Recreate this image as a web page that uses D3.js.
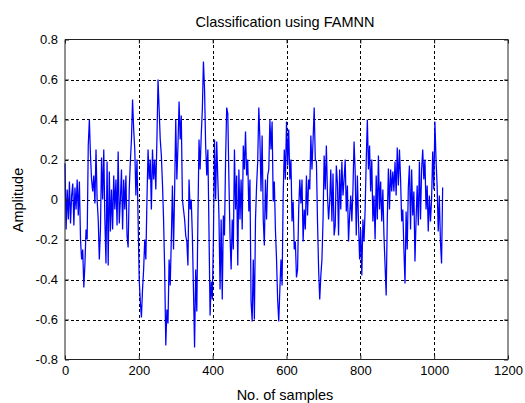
<!DOCTYPE html>
<html>
<head>
<meta charset="utf-8">
<script src="https://cdn.jsdelivr.net/npm/d3@7/dist/d3.min.js"></script>
<style>
  html, body { margin: 0; padding: 0; background: #fff; }
  svg { display: block; }
  text { font-family: "Liberation Sans", Arial, Helvetica, sans-serif; fill: #000; }
</style>
</head>
<body>
<svg id="chart" width="525" height="403"></svg>
<script>
// ---- data ----
const titleText = "Classification using FAMNN";
const xLabelText = "No. of samples";
const yLabelText = "Amplitude";
const xTicks = [0, 200, 400, 600, 800, 1000, 1200];
const yTicks = [-0.8, -0.6, -0.4, -0.2, 0, 0.2, 0.4, 0.6, 0.8];
const yTickLabels = ["-0.8", "-0.6", "-0.4", "-0.2", "0", "0.2", "0.4", "0.6", "0.8"];
const sampleStep = 3; // one value read every 3 samples
const amplitude = [
  0.18, -0.15, 0.05, -0.1, 0.09, -0.12, 0.02, 0.08, -0.13, 0.06,
  -0.05, 0.1, -0.08, 0.09, -0.2, -0.3, -0.25, -0.44, -0.32, -0.15,
  -0.2, 0.27, 0.4, 0.22, 0.1, 0.04, 0.12, -0.02, 0.25, 0.0,
  -0.1, -0.3, -0.15, 0.21, 0.0, 0.25, -0.1, -0.32, 0.19, -0.33,
  0.14, -0.16, 0.05, -0.15, 0.12, -0.05, 0.1, -0.13, 0.24, -0.12,
  0.0, 0.15, -0.15, 0.1, -0.05, 0.12, -0.18, -0.24, 0.05, 0.19,
  0.3, 0.5, 0.35, 0.25, 0.02, 0.2, -0.1, -0.4, -0.51, -0.59,
  -0.45, -0.35, -0.2, -0.3, 0.0, 0.25, 0.1, 0.2, -0.05, 0.25,
  0.1, 0.2, 0.05, 0.3, 0.6, 0.45, 0.3, 0.22, 0.08, -0.1,
  -0.35, -0.73, -0.55, -0.62, -0.3, -0.43, -0.2, 0.07, -0.25, 0.05,
  0.4, 0.1, 0.27, 0.49, 0.3, 0.42, 0.0, -0.05, -0.1, -0.18,
  -0.21, -0.33, 0.1, -0.05, 0.0, -0.18, -0.45, -0.74, -0.35, -0.56,
  -0.1, 0.3, 0.15, 0.32, 0.45, 0.69, 0.55, 0.27, 0.12, 0.25,
  -0.15, -0.58, -0.41, -0.5, -0.2, 0.3, 0.0, 0.29, 0.1, -0.08,
  -0.45, -0.1, -0.5, -0.08, -0.18, 0.2, 0.46, 0.43, 0.1, -0.18,
  -0.35, -0.1, -0.25, 0.25, -0.05, 0.12, -0.33, 0.15, -0.1, 0.1,
  -0.15, 0.27, 0.15, 0.34, 0.12, 0.2, -0.06, 0.1, -0.51, -0.61,
  -0.3, -0.6, -0.1, 0.07, 0.19, 0.46, 0.3, 0.04, 0.32, -0.1,
  -0.23, 0.1, -0.1, 0.12, 0.15, 0.4, 0.25, 0.39, -0.01, 0.09,
  -0.15, -0.3, -0.5, -0.61, -0.45, -0.3, -0.43, 0.02, 0.25, 0.1,
  0.39, 0.17, 0.35, 0.1, 0.2, -0.11, -0.01, -0.25, -0.21, -0.39,
  -0.35, -0.05, 0.1, -0.02, 0.1, -0.21, -0.05, -0.15, 0.12, -0.08,
  0.1, 0.05, 0.32, 0.15, 0.3, 0.46, 0.2, 0.19, -0.11, -0.35,
  -0.5, -0.38, -0.3, -0.1, 0.22, 0.05, 0.27, 0.02, -0.1, -0.01,
  0.15, -0.11, 0.13, -0.18, -0.13, 0.17, 0.08, -0.18, 0.15, -0.05,
  0.19, 0.02, 0.1, 0.2, -0.06, 0.07, -0.21, -0.08, 0.02, -0.11,
  0.05, 0.29, 0.14, -0.18, 0.12, -0.11, -0.3, -0.15, -0.38, -0.1,
  -0.21, -0.05, 0.2, 0.4, 0.15, 0.27, 0.04, 0.2, -0.11, 0.02,
  -0.2, 0.12, -0.1, 0.22, -0.05, 0.09, -0.11, 0.05, -0.18, -0.33,
  -0.48, -0.1, 0.155, -0.05, 0.15, 0.04, 0.14, 0.04, 0.19, 0.02,
  0.26, 0.07, 0.25, 0.1, -0.11, -0.05, -0.25, -0.42, -0.06, -0.25,
  0.06, 0.17, -0.15, 0.15, -0.08, 0.04, -0.31, -0.1, 0.07, -0.13,
  0.19, -0.1, 0.15, 0.25, 0.1, 0.2, -0.05, 0.07, -0.16, 0.02,
  -0.11, 0.0, 0.24, 0.05, 0.39, 0.2, 0.07, -0.16, 0.02, -0.21, -0.32, 0.06
];

// ---- layout ----
const W = 525, H = 403;
const plot = { left: 65, right: 508, top: 39.5, bottom: 359.5 };
const svg = d3.select("#chart");
svg.append("rect").attr("width", W).attr("height", H).attr("fill", "#fff");

const x = d3.scaleLinear().domain([0, 1200]).range([plot.left, plot.right]);
const y = d3.scaleLinear().domain([-0.8, 0.8]).range([plot.bottom, plot.top]);

// grid
const grid = svg.append("g").attr("stroke", "#000").attr("stroke-width", 1)
  .attr("stroke-dasharray", "3,2.5").attr("shape-rendering", "crispEdges");
xTicks.slice(1, -1).forEach(t => {
  grid.append("line").attr("x1", Math.round(x(t)) + 0.5).attr("x2", Math.round(x(t)) + 0.5)
    .attr("y1", plot.top).attr("y2", plot.bottom);
});
yTicks.slice(1, -1).forEach(t => {
  grid.append("line").attr("y1", Math.round(y(t)) + 0.5).attr("y2", Math.round(y(t)) + 0.5)
    .attr("x1", plot.left).attr("x2", plot.right);
});

// signal
const line = d3.line()
  .x((d, i) => x(i * sampleStep))
  .y(d => y(d));
svg.append("path").datum(amplitude)
  .attr("d", line)
  .attr("fill", "none")
  .attr("stroke", "#0000ff")
  .attr("stroke-width", 1.25)
  .attr("stroke-linejoin", "miter");

// axes (ticks inward, MATLAB box)
const tickLen = 4;
const axB = d3.axisBottom(x).tickValues(xTicks).tickSize(-tickLen).tickPadding(6).tickFormat(d3.format("d"));
const axT = d3.axisTop(x).tickValues(xTicks).tickSize(-tickLen).tickFormat("");
const axL = d3.axisLeft(y).tickValues(yTicks).tickSize(-tickLen).tickPadding(7)
  .tickFormat((d, i) => yTickLabels[i]);
const axR = d3.axisRight(y).tickValues(yTicks).tickSize(-tickLen).tickFormat("");

function style(g) {
  g.selectAll("path").attr("stroke", "#222");
  g.selectAll("line").attr("stroke", "#222");
  g.selectAll("text").attr("font-size", 13).attr("fill", "#000")
    .attr("font-family", '"Liberation Sans", Arial, sans-serif');
}
svg.append("g").attr("transform", `translate(0,${plot.bottom})`).call(axB).call(style).call(g => g.select(".domain").attr("d", `M${plot.left},0H${plot.right}`));
svg.append("g").attr("transform", `translate(0,${plot.top})`).call(axT).call(style).call(g => g.select(".domain").attr("d", `M${plot.left},0H${plot.right}`));
svg.append("g").attr("transform", `translate(${plot.left},0)`).call(axL).call(style).call(g => g.select(".domain").attr("d", `M0,${plot.top}V${plot.bottom}`));
svg.append("g").attr("transform", `translate(${plot.right},0)`).call(axR).call(style).call(g => g.select(".domain").attr("d", `M0,${plot.top}V${plot.bottom}`));

// labels
svg.append("text").attr("x", 285).attr("y", 27).attr("text-anchor", "middle")
  .attr("font-size", 14.5).text(titleText);
svg.append("text").attr("x", 285).attr("y", 400).attr("text-anchor", "middle")
  .attr("font-size", 14.5).text(xLabelText);
svg.append("text").attr("transform", `translate(23,200) rotate(-90)`).attr("text-anchor", "middle")
  .attr("font-size", 14.5).text(yLabelText);
</script>
</body>
</html>
